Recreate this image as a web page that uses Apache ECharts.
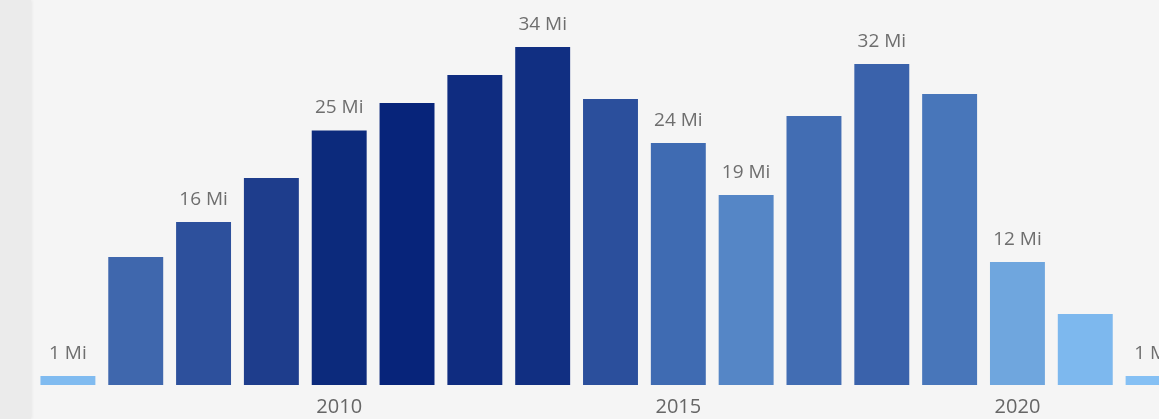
<!DOCTYPE html>
<html>
<head>
<meta charset="utf-8">
<script src="https://cdn.jsdelivr.net/npm/echarts@6/dist/echarts.min.js"></script>
<style>
  html, body { margin:0; padding:0; width:1159px; height:419px; overflow:hidden; background:#f5f5f5; position:relative; }
  #strip { position:absolute; left:0; top:0; width:31px; height:419px; background:#ebebeb; box-shadow: 1px 0 3px rgba(0,0,0,0.06); }
  #chart { position:absolute; left:0; top:0; width:1187px; height:419px; }
</style>
</head>
<body>
<div id="strip"></div>
<div id="chart"></div>
<script>
const years = ['2006','2007','2008','2009','2010','2011','2012','2013','2014','2015','2016','2017','2018','2019','2020','2021','2022'];
const values = [0.9, 12.8, 16.3, 20.7, 25.45, 28.2, 31.0, 33.8, 28.6, 24.2, 19.0, 26.9, 32.1, 29.1, 12.3, 7.1, 0.9];
const labelled = ['2006','2008','2010','2013','2015','2016','2018','2020','2022'];
const tickYears = ['2010','2015','2020'];
const barColors = ['#80bbf0','#3f67ad','#2d509c','#1e3d8c','#0c2a7c','#07247a','#0f2c80','#112f82','#2b4f9c','#3f6bb2','#5586c6','#426db3','#3a62ab','#4876ba','#6fa6de','#7db8ee','#85c0f4'];

const chart = echarts.init(document.getElementById('chart'));
chart.setOption({
  backgroundColor: 'transparent',
  animation: false,
  grid: { left: 34, right: 0, top: 5, bottom: 34 },
  xAxis: {
    type: 'category',
    data: years,
    axisLine: { show: false },
    axisTick: { show: false },
    axisLabel: {
      interval: (i, v) => tickYears.includes(v),
      color: '#666',
      fontFamily: 'Open Sans',
      fontSize: 20,
      margin: 12
    }
  },
  yAxis: {
    type: 'value', min: 0, max: 38, show: false,
    splitLine: { show: false }
  },
  series: [{
    type: 'bar',
    barCategoryGap: '19%',
    data: values.map((v, i) => ({
      value: v,
      itemStyle: { color: barColors[i] },
      label: { show: labelled.includes(years[i]) }
    })),
    label: {
      position: 'top',
      distance: 13,
      color: '#6e6e6e',
      fontFamily: 'Open Sans',
      fontSize: 19,
      formatter: p => Math.round(p.value) + ' Mi'
    }
  }]
});
</script>
</body>
</html>
